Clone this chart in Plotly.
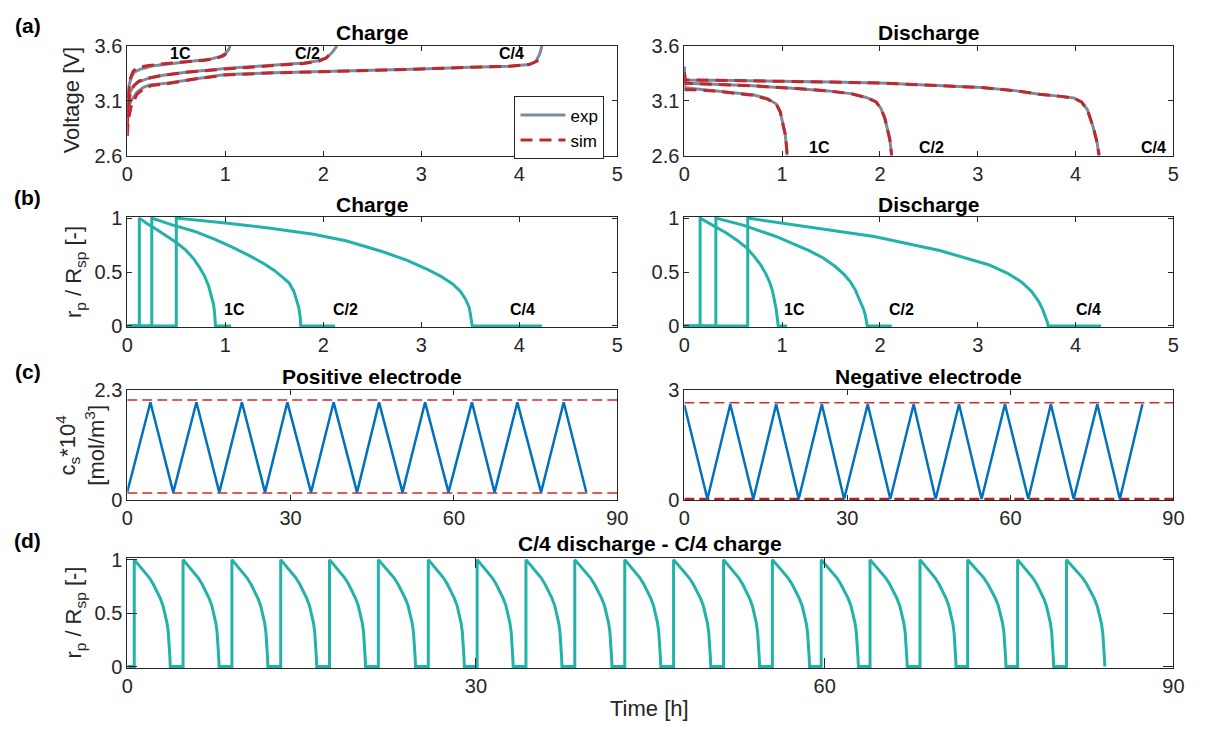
import plotly.graph_objects as go

W, H = 1212, 741
FONT = "Liberation Sans, Arial, sans-serif"
AX = "#262626"
GRAY = "#7D8C9B"
RED = "#C1272D"
TEAL = "#22B2A8"
BLUE = "#0072BD"
LRED = "#D92626"

# ---------------- (a) Charge voltage [V] vs time [h] ----------------
chg_1c_exp_t = [0, 0.005, 0.02, 0.04, 0.07, 0.14, 0.27, 0.5, 0.7, 0.85, 0.95, 1.0, 1.03, 1.05]
chg_1c_exp_v = [3.0, 3.12, 3.25, 3.31, 3.36, 3.39, 3.42, 3.445, 3.46, 3.48, 3.505, 3.53, 3.56, 3.6]
chg_c2_exp_t = [0, 0.01, 0.03, 0.06, 0.11, 0.2, 0.35, 0.6, 1.0, 1.4, 1.8, 1.95, 2.03, 2.09, 2.12, 2.14]
chg_c2_exp_v = [3.0, 3.1, 3.18, 3.23, 3.27, 3.3, 3.33, 3.36, 3.395, 3.42, 3.445, 3.465, 3.49, 3.54, 3.57, 3.6]
chg_c4_exp_t = [0, 0.01, 0.04, 0.1, 0.17, 0.23, 0.4, 0.7, 1.0, 1.5, 2.0, 2.5, 3.0, 3.5, 3.9, 4.1, 4.17, 4.21, 4.23]
chg_c4_exp_v = [3.0, 3.04, 3.1, 3.18, 3.225, 3.245, 3.26, 3.3, 3.34, 3.355, 3.365, 3.375, 3.39, 3.405, 3.415, 3.43, 3.46, 3.53, 3.6]

chg_1c_sim_t = [0, 0.01, 0.03, 0.06, 0.1, 0.2, 0.4, 0.6, 0.8, 0.92, 0.98, 1.01]
chg_1c_sim_v = [2.95, 3.15, 3.3, 3.37, 3.4, 3.42, 3.44, 3.455, 3.47, 3.49, 3.51, 3.53]
chg_c2_sim_t = [0, 0.01, 0.03, 0.07, 0.12, 0.2, 0.35, 0.6, 1.0, 1.4, 1.8, 1.95, 2.03, 2.07]
chg_c2_sim_v = [2.88, 3.05, 3.17, 3.24, 3.28, 3.305, 3.33, 3.36, 3.39, 3.415, 3.44, 3.46, 3.49, 3.53]
chg_c4_sim_t = [0, 0.01, 0.04, 0.1, 0.17, 0.25, 0.4, 0.7, 1.0, 1.5, 2.0, 2.5, 3.0, 3.5, 3.9, 4.1, 4.18, 4.22]
chg_c4_sim_v = [2.78, 2.92, 3.05, 3.16, 3.21, 3.24, 3.255, 3.3, 3.335, 3.355, 3.365, 3.375, 3.39, 3.405, 3.415, 3.43, 3.46, 3.5]

# ---------------- (a) Discharge voltage ----------------
dis_1c_exp_t = [0, 0.005, 0.1, 0.3, 0.5, 0.7, 0.85, 0.94, 0.98, 1.0, 1.03, 1.045, 1.05]
dis_1c_exp_v = [3.41, 3.22, 3.21, 3.19, 3.175, 3.155, 3.12, 3.07, 3.0, 2.93, 2.8, 2.68, 2.6]
dis_c2_exp_t = [0, 0.005, 0.3, 0.7, 1.1, 1.47, 1.7, 1.86, 1.96, 2.01, 2.05, 2.08, 2.1, 2.12]
dis_c2_exp_v = [3.41, 3.26, 3.25, 3.236, 3.215, 3.19, 3.165, 3.13, 3.09, 3.03, 2.94, 2.84, 2.75, 2.6]
dis_c4_exp_t = [0, 0.005, 0.5, 1.0, 1.5, 2.0, 2.5, 3.04, 3.4, 3.63, 3.85, 3.98, 4.06, 4.12, 4.18, 4.22, 4.24]
dis_c4_exp_v = [3.41, 3.29, 3.285, 3.28, 3.27, 3.262, 3.245, 3.22, 3.19, 3.16, 3.14, 3.125, 3.09, 3.02, 2.86, 2.72, 2.6]

dis_1c_sim_t = [0, 0.1, 0.3, 0.42, 0.5, 0.7, 0.85, 0.94, 0.98, 1.0, 1.03, 1.045, 1.05]
dis_1c_sim_v = [3.2, 3.2, 3.19, 3.18, 3.17, 3.15, 3.115, 3.07, 3.0, 2.92, 2.8, 2.68, 2.6]
dis_c2_sim_t = [0, 0.01, 0.3, 0.7, 1.1, 1.47, 1.7, 1.86, 1.96, 2.01, 2.05, 2.08, 2.1, 2.12]
dis_c2_sim_v = [3.3, 3.26, 3.25, 3.236, 3.215, 3.19, 3.165, 3.13, 3.09, 3.03, 2.94, 2.84, 2.75, 2.6]
dis_c4_sim_t = [0, 0.01, 0.5, 1.0, 1.5, 2.0, 2.5, 3.04, 3.4, 3.63, 3.85, 3.98, 4.06, 4.12, 4.18, 4.22, 4.24]
dis_c4_sim_v = [3.36, 3.29, 3.285, 3.28, 3.27, 3.262, 3.245, 3.22, 3.19, 3.16, 3.14, 3.125, 3.09, 3.02, 2.86, 2.72, 2.6]

# ---------------- (b) r_p / R_sp during charge ----------------
rb_chg_1c_t = [0, 0.123, 0.123, 0.2, 0.3, 0.4, 0.5, 0.6, 0.68, 0.74, 0.79, 0.83, 0.86, 0.88, 0.89, 0.897, 0.9, 1.06]
rb_chg_1c_r = [0, 0, 1, 0.95, 0.895, 0.835, 0.774, 0.7, 0.62, 0.54, 0.46, 0.37, 0.28, 0.2, 0.13, 0.06, 0, 0]
rb_chg_c2_t = [0, 0.25, 0.25, 0.45, 0.69, 0.9, 1.07, 1.25, 1.4, 1.5, 1.58, 1.65, 1.7, 1.73, 1.75, 1.765, 1.77, 2.12]
rb_chg_c2_r = [0, 0, 1, 0.94, 0.876, 0.8, 0.73, 0.65, 0.575, 0.515, 0.455, 0.4, 0.32, 0.24, 0.17, 0.08, 0, 0]
rb_chg_c4_t = [0, 0.5, 0.5, 1.0, 1.46, 1.9, 2.23, 2.6, 2.85, 3.05, 3.2, 3.32, 3.4, 3.45, 3.49, 3.51, 3.52, 4.23]
rb_chg_c4_r = [0, 0, 1, 0.955, 0.906, 0.85, 0.79, 0.69, 0.61, 0.53, 0.46, 0.39, 0.32, 0.25, 0.17, 0.08, 0, 0]

# ---------------- (b) r_p / R_sp during discharge ----------------
rb_dis_1c_t = [0, 0.161, 0.161, 0.3, 0.43, 0.53, 0.63, 0.71, 0.78, 0.83, 0.87, 0.9, 0.92, 0.94, 0.95, 0.96, 1.05]
rb_dis_1c_r = [0, 0, 1, 0.93, 0.862, 0.8, 0.73, 0.65, 0.566, 0.49, 0.41, 0.33, 0.25, 0.15, 0.07, 0, 0]
rb_dis_c2_t = [0, 0.322, 0.322, 0.6, 0.93, 1.27, 1.42, 1.54, 1.63, 1.7, 1.75, 1.8, 1.83, 1.85, 1.865, 1.87, 2.12]
rb_dis_c2_r = [0, 0, 1, 0.935, 0.832, 0.7, 0.63, 0.553, 0.48, 0.406, 0.33, 0.23, 0.16, 0.1, 0.04, 0, 0]
rb_dis_c4_t = [0, 0.648, 0.648, 1.27, 1.94, 2.61, 3.11, 3.3, 3.45, 3.55, 3.62, 3.66, 3.69, 3.71, 3.72, 4.26]
rb_dis_c4_r = [0, 0, 1, 0.92, 0.83, 0.7, 0.568, 0.49, 0.406, 0.32, 0.23, 0.16, 0.09, 0.04, 0, 0]

# ---------------- (c) surface concentration c_s*1e4 [mol/m^3] ----------------
cs_time = [0, 4.25, 8.45, 12.7, 16.9, 21.05, 25.3, 29.4, 33.75, 37.9, 42.2, 46.25, 50.55,
           54.7, 59.0, 63.3, 67.45, 71.65, 76.0, 80.15, 84.3]
cs_pos = [0.17, 2.05, 0.16, 2.05, 0.16, 2.05, 0.16, 2.05, 0.16, 2.05, 0.16, 2.05, 0.16,
          2.05, 0.16, 2.05, 0.16, 2.05, 0.16, 2.05, 0.17]
cs_neg = [2.6, 0.03, 2.62, 0.03, 2.62, 0.03, 2.62, 0.03, 2.62, 0.03, 2.62, 0.03, 2.62,
          0.03, 2.62, 0.03, 2.62, 0.03, 2.62, 0.03, 2.62]
cs_pos_limits = [2.1, 0.15]
cs_neg_limits = [2.66, 0.03]
cs_span = [0, 90]

# ---------------- (d) cycling C/4 discharge - C/4 charge ----------------
d_rise_t = [0.6, 4.8, 9.0, 13.2, 17.4, 21.6, 25.9, 30.1, 34.3, 38.5, 42.8, 47.0, 51.3, 55.5,
            59.7, 63.9, 68.2, 72.3, 76.6, 80.8]
d_zero_t = [3.7, 7.9, 12.1, 16.3, 20.5, 24.8, 29.0, 33.2, 37.4, 41.7, 45.9, 50.2, 54.4, 58.7,
            62.9, 67.1, 71.3, 75.6, 79.7, 84.1]
# one decay: fraction of the decay time vs r_p/R_sp
d_shape_frac = [0, 0.1, 0.2, 0.31, 0.42, 0.53, 0.64, 0.72, 0.8, 0.86, 0.91, 0.945, 0.967, 0.98, 0.99, 1]
d_shape_r = [1, 0.96, 0.92, 0.875, 0.83, 0.77, 0.70, 0.64, 0.568, 0.49, 0.406, 0.32, 0.23, 0.16, 0.08, 0]

d_t, d_r = [0], [0]
for ts, te in zip(d_rise_t, d_zero_t):
    d_t.append(ts)
    d_r.append(0)
    for f, r in zip(d_shape_frac, d_shape_r):
        d_t.append(ts + f * (te - ts))
        d_r.append(r)

# ---------------- figure ----------------
fig = go.Figure()


def add(x, y, ax, color, width, dash=None, name=None, show=False):
    fig.add_trace(go.Scatter(
        x=x, y=y, xaxis="x" + ax, yaxis="y" + ax, mode="lines",
        line=dict(color=color, width=width, dash=dash),
        name=name, showlegend=show, hoverinfo="skip"))


SIMDASH = "12px,7px"
# (a) charge
add(chg_1c_exp_t, chg_1c_exp_v, "", GRAY, 3, name="exp", show=True)
add(chg_c2_exp_t, chg_c2_exp_v, "", GRAY, 3)
add(chg_c4_exp_t, chg_c4_exp_v, "", GRAY, 3)
add(chg_1c_sim_t, chg_1c_sim_v, "", RED, 3, SIMDASH, name="sim", show=True)
add(chg_c2_sim_t, chg_c2_sim_v, "", RED, 3, SIMDASH)
add(chg_c4_sim_t, chg_c4_sim_v, "", RED, 3, SIMDASH)
# (a) discharge
add(dis_1c_exp_t, dis_1c_exp_v, "2", GRAY, 3)
add(dis_c2_exp_t, dis_c2_exp_v, "2", GRAY, 3)
add(dis_c4_exp_t, dis_c4_exp_v, "2", GRAY, 3)
add(dis_1c_sim_t, dis_1c_sim_v, "2", RED, 3, SIMDASH)
add(dis_c2_sim_t, dis_c2_sim_v, "2", RED, 3, SIMDASH)
add(dis_c4_sim_t, dis_c4_sim_v, "2", RED, 3, SIMDASH)
# (b)
for t, r in [(rb_chg_1c_t, rb_chg_1c_r), (rb_chg_c2_t, rb_chg_c2_r), (rb_chg_c4_t, rb_chg_c4_r)]:
    add(t, r, "3", TEAL, 3)
for t, r in [(rb_dis_1c_t, rb_dis_1c_r), (rb_dis_c2_t, rb_dis_c2_r), (rb_dis_c4_t, rb_dis_c4_r)]:
    add(t, r, "4", TEAL, 3)
# (c)
for lim in cs_pos_limits:
    add(cs_span, [lim, lim], "5", LRED, 1.5, "10px,5px")
add(cs_time, cs_pos, "5", BLUE, 2.5)
add(cs_span, [cs_neg_limits[0]] * 2, "6", LRED, 1.5, "10px,5px")
add(cs_span, [cs_neg_limits[1]] * 2, "6", "#B22222", 2.5, "10px,5px")
add(cs_time, cs_neg, "6", BLUE, 2.5)
# (d)
add(d_t, d_r, "7", TEAL, 3)


def px(x):
    return x / W


def py(y):
    return 1 - y / H


XL = [px(123), px(620)]
XR = [px(688), px(1184)]
XD = [px(123), px(1184)]
YA = [py(149), py(36)]
YB = [py(326), py(212)]
YC = [py(504), py(391)]
YD = [py(677), py(564)]


def ax(domain, anchor, rng, tickvals, ticklen=5):
    return dict(domain=domain, anchor=anchor, range=rng, tickvals=tickvals,
                showline=True, linecolor=AX, linewidth=1, mirror="ticks",
                ticks="inside", ticklen=ticklen, tickcolor=AX, tickwidth=1,
                showgrid=False, zeroline=False, fixedrange=True,
                tickfont=dict(family=FONT, size=20, color=AX))


t5 = [0, 1, 2, 3, 4, 5]
t90 = [0, 30, 60, 90]
eps = 0.013
layout = dict(
    width=W, height=H, margin=dict(l=0, r=0, t=0, b=0),
    paper_bgcolor="white", plot_bgcolor="white",
    font=dict(family=FONT, color=AX),
    xaxis=ax(XL, "y", [0, 5], t5), yaxis=ax(YA, "x", [2.6, 3.6], [2.6, 3.1, 3.6]),
    xaxis2=ax(XR, "y2", [0, 5], t5), yaxis2=ax(YA, "x2", [2.6, 3.6], [2.6, 3.1, 3.6]),
    xaxis3=ax(XL, "y3", [0, 5], t5), yaxis3=ax(YB, "x3", [-eps, 1 + eps], [0, 0.5, 1]),
    xaxis4=ax(XR, "y4", [0, 5], t5), yaxis4=ax(YB, "x4", [-eps, 1 + eps], [0, 0.5, 1]),
    xaxis5=ax(XL, "y5", [0, 90], t90), yaxis5=ax(YC, "x5", [0, 2.3], [0, 2.3]),
    xaxis6=ax(XR, "y6", [0, 90], t90), yaxis6=ax(YC, "x6", [0, 3], [0, 3]),
    xaxis7=ax(XD, "y7", [0, 90], t90, ticklen=10), yaxis7=ax(YD, "x7", [-eps, 1 + eps], [0, 0.5, 1], ticklen=10),
    legend=dict(x=px(607), y=py(88), xanchor="right", yanchor="top",
                bgcolor="white", bordercolor=AX, borderwidth=1,
                font=dict(family=FONT, size=17, color="black"),
                tracegroupgap=0, itemwidth=45),
    showlegend=True,
)
fig.update_layout(**layout)

ann = []


def note(text, x, y, size, bold=False, angle=0, xref="paper", yref="paper", color="black"):
    ann.append(dict(text=("<b>%s</b>" % text) if bold else text, x=x, y=y, xref=xref, yref=yref,
                    showarrow=False, textangle=angle, xanchor="center", yanchor="middle",
                    font=dict(family=FONT, size=size, color=color)))


# panel letters
for lab, yy in [("(a)", 15), ("(b)", 192), ("(c)", 372), ("(d)", 546)]:
    note(lab, px(22), py(yy), 21, bold=True)
# titles
note("Charge", px(371), py(22), 21, bold=True)
note("Discharge", px(936), py(22), 21, bold=True)
note("Charge", px(371), py(199), 21, bold=True)
note("Discharge", px(936), py(199), 21, bold=True)
note("Positive electrode", px(371), py(377), 21, bold=True)
note("Negative electrode", px(936), py(377), 21, bold=True)
note("C/4 discharge - C/4 charge", px(653), py(549), 21, bold=True)
# axis labels
note("Voltage [V]", px(66), py(92), 22, angle=-90, color=AX)
note("r<sub>p</sub> / R<sub>sp</sub> [-]", px(70), py(269), 22, angle=-90, color=AX)
note("c<sub>s</sub>*10<sup>4</sup><br>[mol/m<sup>3</sup>]", px(76), py(447), 22, angle=-90, color=AX)
note("r<sub>p</sub> / R<sub>sp</sub> [-]", px(70), py(620), 22, angle=-90, color=AX)
note("Time [h]", px(653), py(719), 22, color=AX)
# rate labels
for txt, x in [("1C", 0.545), ("C/2", 1.84), ("C/4", 3.92)]:
    note(txt, x, 3.53, 16, bold=True, xref="x", yref="y")
for txt, x in [("1C", 1.38), ("C/2", 2.53), ("C/4", 4.8)]:
    note(txt, x, 2.675, 16, bold=True, xref="x2", yref="y2")
for txt, x in [("1C", 1.094), ("C/2", 2.23), ("C/4", 4.03)]:
    note(txt, x, 0.156, 16, bold=True, xref="x3", yref="y3")
for txt, x in [("1C", 1.13), ("C/2", 2.22), ("C/4", 4.13)]:
    note(txt, x, 0.15, 16, bold=True, xref="x4", yref="y4")

fig.update_layout(annotations=ann)
fig.write_html("out.html")
